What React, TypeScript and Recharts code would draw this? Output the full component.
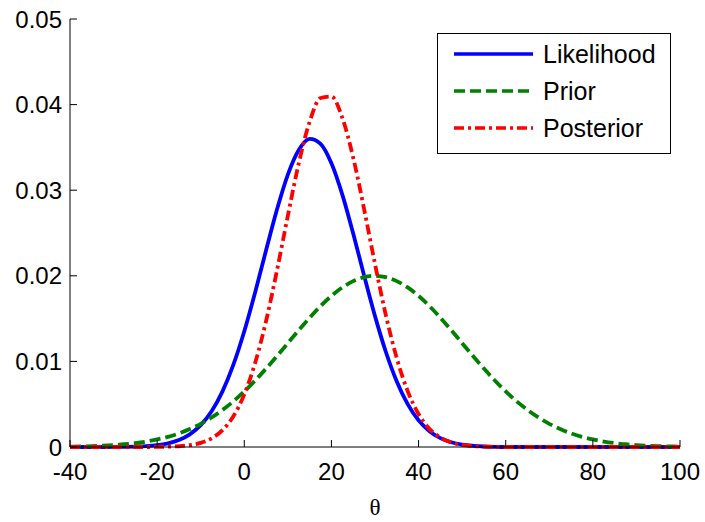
import React from 'react';
import { LineChart, Line, XAxis, YAxis, Legend, Label } from 'recharts';

// theta grid, every 2.5 units
const thetaValues = [
  -40, -37.5, -35, -32.5, -30, -27.5, -25, -22.5, -20, -17.5, -15, -12.5, -10, -7.5, -5, -2.5,
  0, 2.5, 5, 7.5, 10, 12.5, 15, 17.5, 20, 22.5, 25, 27.5, 30, 32.5, 35, 37.5, 40, 42.5, 45, 47.5,
  50, 52.5, 55, 57.5, 60, 62.5, 65, 67.5, 70, 72.5, 75, 77.5, 80, 82.5, 85, 87.5, 90, 92.5, 95,
  97.5, 100,
];

const likelihood = [
  0, 0, 0, 0, 0.00001, 0.00002, 0.00005, 0.0001, 0.00021, 0.00043, 0.00081, 0.00148, 0.00255,
  0.00417, 0.0065, 0.00962, 0.01353, 0.01809, 0.02298, 0.02774, 0.03183, 0.0347, 0.036, 0.03542,
  0.03315, 0.02949, 0.02493, 0.02002, 0.01529, 0.0111, 0.00765, 0.00501, 0.00312, 0.00185,
  0.00104, 0.00056, 0.00028, 0.00014, 0.00006, 0.00002, 0, 0, 0, 0, 0, 0, 0, 0, 0, 0, 0, 0, 0, 0,
  0, 0, 0,
];

const prior = [
  0.00004, 0.00007, 0.0001, 0.00015, 0.00022, 0.00032, 0.00046, 0.00064, 0.00088, 0.00119,
  0.00159, 0.00209, 0.00271, 0.00345, 0.00433, 0.00534, 0.00649, 0.00777, 0.00916, 0.01062,
  0.01213, 0.01364, 0.0151, 0.01646, 0.01765, 0.01864, 0.01938, 0.01984, 0.02, 0.01984, 0.01938,
  0.01864, 0.01765, 0.01646, 0.0151, 0.01364, 0.01213, 0.01062, 0.00916, 0.00777, 0.00649,
  0.00534, 0.00433, 0.00345, 0.00271, 0.00209, 0.00159, 0.00119, 0.00088, 0.00064, 0.00046,
  0.00032, 0.00022, 0.00015, 0.0001, 0.00007, 0.00004,
];

const posterior = [
  0, 0, 0, 0, 0, 0, 0, 0, 0.00001, 0.00004, 0.00009, 0.00022, 0.00048, 0.00101, 0.00197, 0.0036,
  0.00615, 0.00984, 0.01472, 0.02062, 0.02702, 0.03313, 0.038, 0.04077, 0.04094, 0.03845, 0.0338,
  0.02779, 0.02138, 0.01538, 0.01037, 0.00653, 0.00385, 0.00212, 0.0011, 0.00053, 0.00024, 0.0001,
  0.00004, 0.00001, 0, 0, 0, 0, 0, 0, 0, 0, 0, 0, 0, 0, 0, 0, 0, 0, 0,
];

const xTicks = [-40, -20, 0, 20, 40, 60, 80, 100];
const yTicks = [0, 0.01, 0.02, 0.03, 0.04, 0.05];

const series = [
  { key: 'likelihood', name: 'Likelihood', color: '#0000ff', dash: undefined },
  { key: 'prior', name: 'Prior', color: '#008000', dash: '11 5' },
  { key: 'posterior', name: 'Posterior', color: '#ff0000', dash: '10 4 3 4' },
];

const data = thetaValues.map((t, i) => ({
  theta: t,
  likelihood: likelihood[i],
  prior: prior[i],
  posterior: posterior[i],
}));

const FONT = '"Liberation Sans", Arial, sans-serif';

function LegendBox() {
  return (
    <svg width={234} height={121} style={{ display: 'block' }}>
      <rect x={0.5} y={0.5} width={233} height={120} fill="#fff" stroke="#000" strokeWidth={1} />
      {series.map((s, i) => {
        const cy = 21 + i * 37;
        return (
          <g key={s.key}>
            <line x1={17} x2={96} y1={cy} y2={cy} stroke={s.color} strokeWidth={3.5}
              strokeDasharray={s.dash} />
            <text x={106} y={cy} dy="0.35em" fontSize={25} fontFamily={FONT} fill="#000">
              {s.name}
            </text>
          </g>
        );
      })}
    </svg>
  );
}

export default function App() {
  const tickStyle = { fontSize: 24, fontFamily: FONT, fill: '#000' };
  return (
    <div style={{ position: 'fixed', left: 0, top: 0, width: 705, height: 522, background: '#fff' }}>
      <LineChart
        width={705}
        height={522}
        data={data}
        margin={{ top: 19, right: 25, left: 0, bottom: 15 }}
      >
        <XAxis
          dataKey="theta"
          type="number"
          domain={[-40, 100]}
          ticks={xTicks}
          height={60}
          tick={tickStyle}
          tickSize={-7}
          tickMargin={23}
          stroke="#000"
          allowDataOverflow
        >
          <Label
            content={(props: any) => {
              const vb = props.viewBox;
              return (
                <text x={vb.x + vb.width / 2} y={vb.y + 68} textAnchor="middle"
                  fontSize={23} fontFamily='"Liberation Serif", "Times New Roman", serif' fill="#000">
                  θ
                </text>
              );
            }}
          />
        </XAxis>
        <XAxis
          xAxisId="top"
          orientation="top"
          dataKey="theta"
          type="number"
          domain={[-40, 100]}
          ticks={xTicks}
          height={0}
          tick={false}
          tickSize={-7}
          stroke="#000"
        />
        <YAxis
          type="number"
          domain={[0, 0.05]}
          ticks={yTicks}
          width={70}
          tick={tickStyle}
          tickSize={-7}
          tickMargin={15}
          stroke="#000"
        />
        <YAxis
          yAxisId="right"
          orientation="right"
          type="number"
          domain={[0, 0.05]}
          ticks={yTicks}
          width={0}
          tick={false}
          tickSize={-7}
          stroke="#000"
        />
        <Legend
          layout="vertical"
          align="center"
          verticalAlign="middle"
          content={() => <LegendBox />}
          wrapperStyle={{ position: 'absolute', left: 437, top: 33, width: 234 }}
        />
        {series.map((s) => (
          <Line
            key={s.key}
            type="monotone"
            dataKey={s.key}
            name={s.name}
            stroke={s.color}
            strokeWidth={3.8}
            strokeDasharray={s.dash}
            dot={false}
            activeDot={false}
            isAnimationActive={false}
          />
        ))}
      </LineChart>
    </div>
  );
}
